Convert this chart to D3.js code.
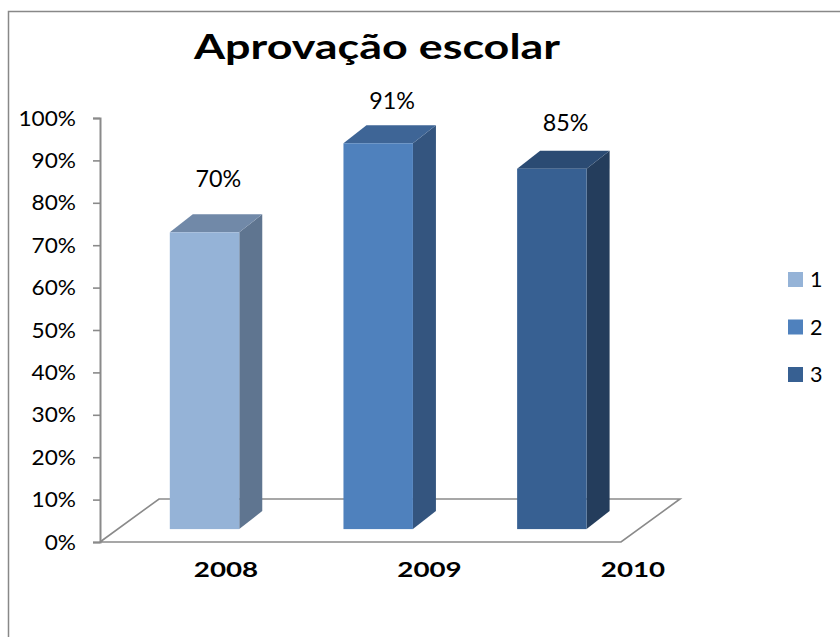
<!DOCTYPE html>
<html><head><meta charset="utf-8">
<script src="https://cdn.jsdelivr.net/npm/d3@7"></script>
<style>body{margin:0;background:#fff}svg{display:block;font-family:Lato,"Open Sans",sans-serif}</style>
</head><body><svg id="c" width="840" height="637"></svg>
<script>
const title = "Aprovação escolar";
const categories = ["2008", "2009", "2010"];
const values = [0.70, 0.91, 0.85];
const seriesNames = ["1", "2", "3"];
const yTicks = [0, 0.1, 0.2, 0.3, 0.4, 0.5, 0.6, 0.7, 0.8, 0.9, 1.0];

const frontCol = ["#95B3D7", "#4F81BD", "#376092"];
const topCol = ["#7189A8", "#3E6596", "#2B4B73"];
const sideCol = ["#5F7590", "#34557F", "#243D5C"];

const svg = d3.select("#c");
const fmt = d3.format(".0%");

// border
svg.append("rect").attr("x", 8.5).attr("y", 11.5).attr("width", 840).attr("height", 640)
  .attr("fill", "none").attr("stroke", "#888").attr("stroke-width", 1.5);

// title
svg.append("text").attr("transform", "translate(377,59) scale(1.32,1)").attr("text-anchor", "middle")
  .attr("font-weight", "bold").attr("font-size", 34).attr("fill", "#000").text(title);

// projection params
const depth = {dx: 59, dy: -43};     // full floor depth
const barDepth = {dx: 23, dy: -18};  // bar depth
const barFrac = 0.3;                 // bar front plane fraction of floor depth

const yAxis = d3.scaleLinear().domain([0, 1]).range([542, 118]);
const yBar = d3.scaleLinear().domain([0, 1]).range([542 + barFrac * depth.dy, 118 + barFrac * depth.dy]);
const x0 = 100, x1 = 621;
const xBand = d3.scaleBand().domain(categories)
  .range([x0 + barFrac * depth.dx, x1 + barFrac * depth.dx]).paddingInner(0.6).paddingOuter(0.3);
const xLabel = d3.scalePoint().domain(categories).range([226, 633]);
const yLabel = d3.scaleLinear().domain([0, 1]).range([445, 76]);

// floor
const g0 = yAxis(0);
const floor = [[x0, g0], [x0 + depth.dx, g0 + depth.dy], [x1 + depth.dx, g0 + depth.dy], [x1, g0]];
svg.append("path").attr("d", d3.line()(floor.concat([floor[0]])))
  .attr("fill", "none").attr("stroke", "#8a8a8a").attr("stroke-width", 1.6);

// y axis
const tsx = 1.03;
const ax = svg.append("g").attr("transform", `translate(${x0},0)`)
  .call(d3.axisLeft(yAxis).tickValues(yTicks).tickFormat(fmt).tickSize(7).tickPadding(17));
ax.select(".domain").attr("stroke", "#8a8a8a").attr("stroke-width", 2);
ax.selectAll(".tick line").attr("stroke", "#8a8a8a").attr("stroke-width", 1.6);
ax.selectAll(".tick text").attr("font-family", "Lato, sans-serif").attr("font-size", 22).attr("fill", "#000")
  .attr("x", -24 / tsx).attr("transform", `scale(${tsx},1)`);

// bars
const bars = svg.append("g").selectAll("g").data(values).join("g");
bars.each(function(v, i) {
  const g = d3.select(this);
  const x = xBand(categories[i]), w = xBand.bandwidth();
  const yt = yBar(v), yb = yBar(0);
  const dx = barDepth.dx, dy = barDepth.dy;
  g.append("path").attr("d", d3.line()([[x + w, yb], [x + w + dx, yb + dy], [x + w + dx, yt + dy], [x + w, yt]]) + "Z")
    .attr("fill", sideCol[i]);
  g.append("path").attr("d", d3.line()([[x, yt], [x + dx, yt + dy], [x + w + dx, yt + dy], [x + w, yt]]) + "Z")
    .attr("fill", topCol[i]);
  g.append("rect").attr("x", x).attr("y", yt).attr("width", w).attr("height", yb - yt).attr("fill", frontCol[i]);
  g.append("text").attr("x", x + w / 2 + dx * 0.6).attr("y", yLabel(v)).attr("text-anchor", "middle")
    .attr("font-size", 23.3).attr("fill", "#000").text(fmt(v));
});

// category labels
svg.append("g").selectAll("text").data(categories).join("text")
  .attr("transform", d => `translate(${xLabel(d)},577) scale(1.29,1)`).attr("text-anchor", "middle")
  .attr("font-weight", "bold").attr("font-size", 21.5).attr("fill", "#000").text(d => d);

// legend
const leg = svg.append("g").selectAll("g").data(seriesNames).join("g")
  .attr("transform", (d, i) => `translate(788,${272 + i * 47.5})`);
leg.append("rect").attr("width", 15).attr("height", 15).attr("fill", (d, i) => frontCol[i]);
leg.append("text").attr("x", 22).attr("y", 15).attr("font-size", 21.5).attr("fill", "#000").text(d => d);
</script></body></html>
